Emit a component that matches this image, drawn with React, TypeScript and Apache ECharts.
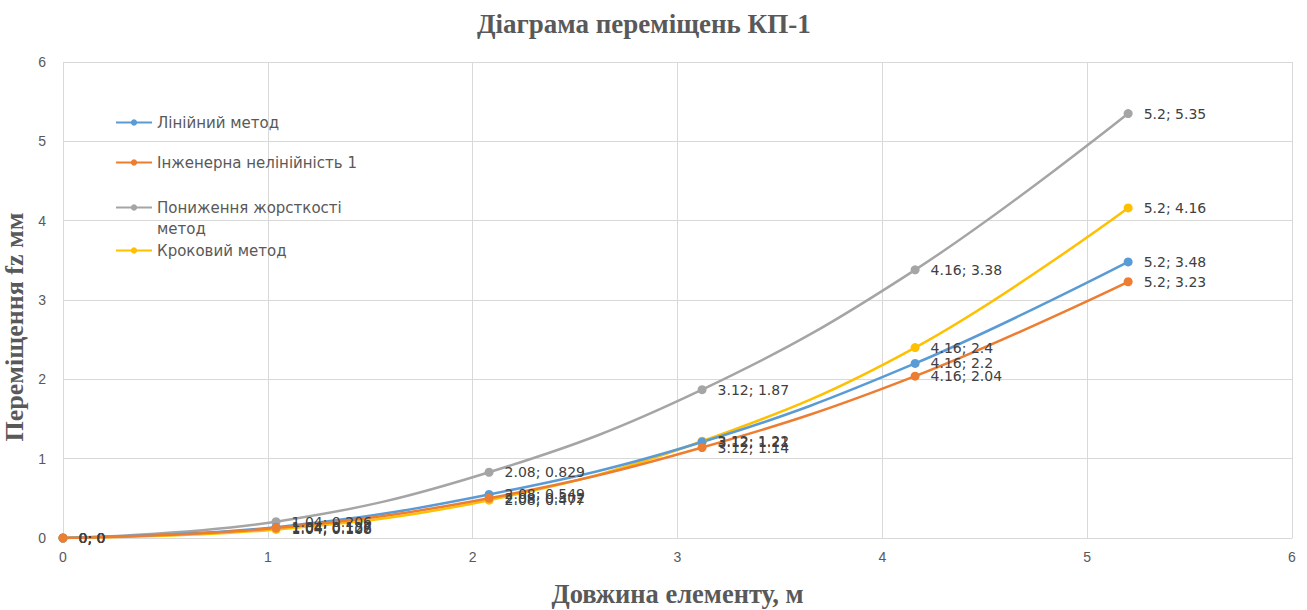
import React, { useEffect, useRef } from "react";
import * as echarts from "echarts";

const xs = [0, 1.04, 2.08, 3.12, 4.16, 5.2];
const seriesNames = [
  "Лінійний метод",
  "Інженерна нелінійність 1",
  "Пониження жорсткості метод",
  "Кроковий метод",
];
const linear = [0, 0.137, 0.549, 1.21, 2.2, 3.48];
const engineering = [0, 0.126, 0.502, 1.14, 2.04, 3.23];
const stiffness = [0, 0.206, 0.829, 1.87, 3.38, 5.35];
const stepwise = [0, 0.108, 0.477, 1.22, 2.4, 4.16];
const colors = ["#5B9BD5", "#ED7D31", "#A5A5A5", "#FFC000"];
const xTicks = [0, 1, 2, 3, 4, 5, 6];
const yTicks = [0, 1, 2, 3, 4, 5, 6];
const legendTops = [110, 150, 195, 238];

export default function App() {
  const ref = useRef<HTMLDivElement>(null);
  useEffect(() => {
    if (!ref.current) return;
    const chart = echarts.init(ref.current, undefined, { renderer: "svg" });
    const all = [linear, engineering, stiffness, stepwise];
    const order = [2, 3, 0, 1];
    const legendText = {
      fontFamily: "DejaVu Sans",
      fontSize: 15,
      color: "#595959",
    };
    chart.setOption({
      animation: false,
      title: {
        text: "Діаграма переміщень КП-1",
        left: 472,
        top: 5,
        textStyle: {
          fontFamily: "Liberation Serif",
          fontWeight: "bold",
          fontSize: 27,
          color: "#595959",
        },
      },
      legend: seriesNames.map((n, i) => ({
        orient: "vertical",
        left: 110,
        top: legendTops[i],
        itemWidth: 36,
        itemHeight: 8,
        itemGap: 0,
        data: [n],
        formatter: (name: string) =>
          name === "Пониження жорсткості метод" ? "Пониження жорсткості" : name,
        textStyle: legendText,
      })),
      graphic: [
        {
          type: "text",
          left: 157,
          top: 221,
          style: { text: "метод", ...legendText, fill: "#595959" },
        },
      ],
      grid: { left: 63, right: 15, top: 62, bottom: 72, outerBoundsMode: "none", containLabel: false },
      xAxis: {
        type: "value",
        min: xTicks[0],
        max: xTicks[xTicks.length - 1],
        interval: 1,
        name: "Довжина елементу, м",
        nameLocation: "middle",
        nameGap: 42,
        nameTextStyle: {
          fontFamily: "Liberation Serif",
          fontWeight: "bold",
          fontSize: 26.5,
          color: "#595959",
        },
        axisLine: { show: true, lineStyle: { color: "#d9d9d9" } },
        axisTick: { show: false },
        axisLabel: { color: "#595959", fontSize: 14, fontFamily: "Liberation Sans", margin: 12 },
        splitLine: { show: true, lineStyle: { color: "#d9d9d9" } },
      },
      yAxis: {
        type: "value",
        min: yTicks[0],
        max: yTicks[yTicks.length - 1],
        interval: 1,
        name: "Переміщення fz мм",
        nameLocation: "middle",
        nameGap: 19,
        nameTextStyle: {
          fontFamily: "Liberation Serif",
          fontWeight: "bold",
          fontSize: 26,
          color: "#595959",
          padding: [0, 54, 0, 0],
        },
        axisLine: { show: false },
        axisTick: { show: false },
        axisLabel: { color: "#595959", fontSize: 14, fontFamily: "Liberation Sans", margin: 17 },
        splitLine: { show: true, lineStyle: { color: "#d9d9d9" } },
      },
      series: order.map((i) => ({
        name: seriesNames[i],
        type: "line",
        smooth: 0.4,
        data: xs.map((x, k) => [x, all[i][k]]),
        color: colors[i],
        symbol: "circle",
        symbolSize: 9,
        lineStyle: { width: 2.5, color: colors[i] },
        itemStyle: { color: colors[i] },
        label: {
          show: true,
          position: "right",
          distance: 11,
          color: "#404040",
          fontSize: 14,
          fontFamily: "DejaVu Sans",
          formatter: (p: any) => `${p.value[0]}; ${p.value[1]}`,
        },
      })),
    });
    return () => chart.dispose();
  }, []);
  return (
    <div
      ref={ref}
      style={{ position: "absolute", left: 0, top: 0, width: 1307, height: 610 }}
    />
  );
}
